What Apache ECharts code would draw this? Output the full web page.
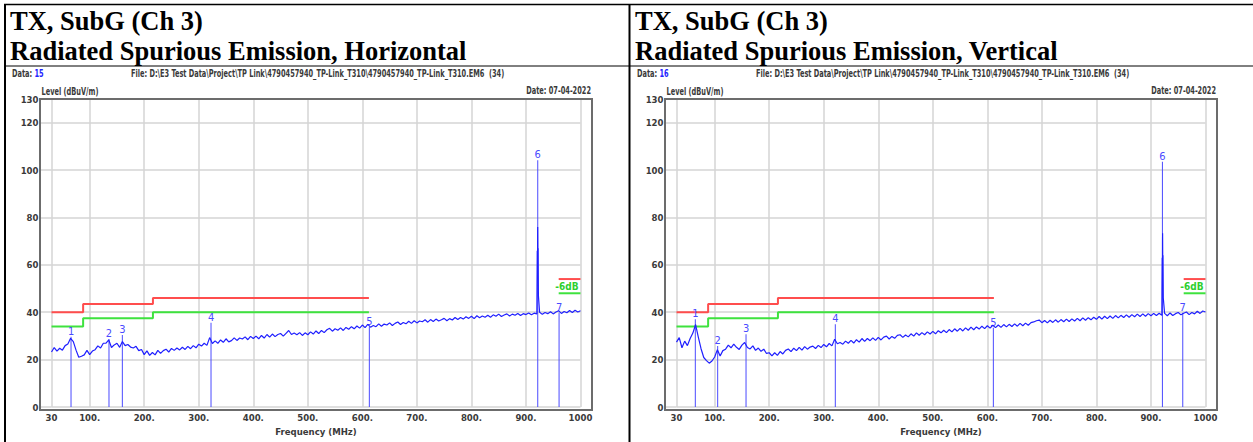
<!DOCTYPE html>
<html>
<head>
<meta charset="utf-8">
<script src="https://cdn.jsdelivr.net/npm/echarts@6/dist/echarts.min.js"></script>
<style>
  html, body { margin: 0; padding: 0; background: #ffffff; }
  #chart { width: 1253px; height: 442px; }
</style>
</head>
<body>
<div id="chart"></div>
<script>
// ---- axis ticks ----
const FREQ_TICKS = [30, 100, 200, 300, 400, 500, 600, 700, 800, 900, 1000];
const LEVEL_TICKS = [0, 20, 40, 60, 80, 100, 120, 130];

// ---- sweep: levels in dBuV/m, one reading every 5 MHz from 30 MHz ----
const SWEEP_START = 30;
const SWEEP_STEP = 5;

// Horizontal polarisation
const sweepH = [
  23.2, 25.1, 23.6, 24.8, 24.0, 25.9, 26.6, 29.0, 27.6, 24.0,   // 30-75
  21.0, 21.4, 22.0, 23.9, 22.1, 23.6, 24.2, 25.8, 24.9, 26.9,   // 80-125
  27.0, 28.3, 25.1, 26.2, 26.9, 25.2, 27.6, 25.9, 26.4, 25.3,   // 130-175
  24.9, 25.6, 23.8, 24.3, 22.1, 23.7, 21.8, 23.0, 22.0, 23.9,   // 180-225
  22.6, 23.8, 24.4, 23.2, 24.7, 23.9, 24.9, 24.1, 25.2, 24.3,   // 230-275
  25.6, 24.6, 25.9, 25.0, 26.5, 25.7, 26.9, 26.0, 29.3, 26.8,   // 280-325
  27.9, 26.9, 28.3, 27.3, 28.8, 27.5, 28.0, 29.2, 28.1, 29.1,   // 330-375
  28.7, 29.6, 28.4, 29.8, 28.9, 29.9, 28.8, 30.2, 29.1, 30.6,   // 380-425
  29.5, 30.8, 29.7, 30.6, 31.0, 29.9, 31.1, 32.3, 30.6, 31.2,   // 430-475
  30.5, 31.4, 30.2, 31.3, 30.5, 31.7, 30.8, 32.1, 31.0, 32.3,   // 480-525
  31.4, 32.6, 33.2, 32.0, 33.0, 32.4, 33.4, 32.3, 33.6, 32.8,   // 530-575
  33.9, 33.0, 34.2, 33.3, 34.6, 33.5, 34.9, 33.7, 34.4, 33.9,   // 580-625
  35.1, 34.1, 35.0, 34.6, 35.5, 34.4, 35.3, 35.9, 34.8, 35.7,   // 630-675
  35.1, 36.2, 35.3, 36.4, 35.5, 36.3, 36.0, 36.8, 35.8, 36.9,   // 680-725
  36.1, 37.1, 36.3, 36.8, 37.4, 36.4, 37.3, 36.7, 37.8, 36.9,   // 730-775
  37.8, 37.1, 38.1, 37.4, 38.3, 37.3, 38.5, 37.7, 38.4, 37.9,   // 780-825
  38.7, 37.9, 38.9, 38.3, 39.2, 38.2, 38.8, 39.3, 38.4, 39.2,   // 830-875
  38.7, 39.5, 38.6, 39.4, 39.0, 39.7, 38.9, 39.6, 39.3, 40.0,   // 880-925
  39.1, 39.9, 39.4, 40.2, 39.3, 40.1, 40.6, 39.5, 40.3, 39.8,   // 930-975
  40.7, 39.9, 40.8, 40.1, 40.6                                  // 980-1000
];
// Fine readings around the 921 MHz carrier [MHz, dBuV/m]
const carrierH = [[920.3, 51], [920.7, 66], [921.1, 55], [921.5, 76], [921.9, 61], [922.3, 67], [922.8, 47]];
// Marker frequencies and levels, numbered 1..7
const markersH = [[65.8, 29.7], [135.4, 28.7], [159.9, 30.4], [322.5, 35.6], [612.8, 33.8], [921.6, 104.1], [960.7, 39.8]];

// Vertical polarisation
const sweepV = [
  27.4, 29.3, 25.0, 27.8, 25.9, 28.9, 31.2, 34.8, 29.5, 24.6,   // 30-75
  20.9, 19.6, 18.5, 19.4, 21.1, 24.2, 21.5, 23.8, 24.4, 26.1,   // 80-125
  25.0, 26.5, 25.2, 24.3, 26.1, 27.2, 25.1, 24.5, 25.8, 23.9,   // 130-175
  24.9, 23.5, 24.4, 22.6, 22.9, 21.6, 22.9, 21.8, 23.4, 22.4,   // 180-225
  23.9, 24.5, 23.4, 24.8, 23.8, 25.2, 24.0, 25.5, 24.4, 25.3,   // 230-275
  25.7, 24.7, 26.0, 25.1, 26.4, 25.4, 26.8, 25.8, 28.6, 26.7,   // 280-325
  27.2, 26.5, 27.8, 26.9, 28.1, 27.0, 28.4, 27.4, 28.9, 27.7,   // 330-375
  28.9, 28.0, 29.2, 28.1, 29.4, 28.3, 29.5, 29.9, 28.7, 29.8,   // 380-425
  29.0, 30.2, 30.5, 29.4, 30.4, 29.6, 30.9, 29.9, 31.3, 30.3,   // 430-475
  31.4, 30.5, 31.7, 30.8, 31.9, 30.9, 32.2, 31.3, 32.4, 31.4,   // 480-525
  32.7, 31.7, 33.0, 32.0, 33.2, 32.1, 33.4, 32.4, 33.7, 32.6,   // 530-575
  33.8, 32.9, 34.1, 33.1, 34.3, 33.3, 34.5, 33.5, 34.6, 33.6,   // 580-625
  34.8, 33.8, 34.9, 34.0, 35.1, 34.1, 35.3, 34.3, 35.4, 34.5,   // 630-675
  35.6, 35.9, 36.4, 36.7, 35.6, 36.5, 35.5, 36.6, 35.7, 36.8,   // 680-725
  35.8, 36.9, 36.0, 37.1, 36.1, 37.2, 36.3, 37.4, 36.4, 37.6,   // 730-775
  36.6, 37.7, 36.8, 37.9, 37.0, 38.2, 37.1, 38.3, 37.3, 38.4,   // 780-825
  37.4, 38.6, 37.6, 38.7, 37.8, 38.9, 37.9, 39.0, 38.1, 39.2,   // 830-875
  38.2, 39.3, 38.3, 39.4, 38.5, 39.5, 38.6, 39.6, 38.7, 39.5,   // 880-925
  38.5, 39.7, 38.6, 39.4, 39.9, 38.9, 39.6, 40.1, 39.0, 39.9,   // 930-975
  39.3, 40.4, 39.5, 40.5, 40.1                                  // 980-1000
];
const carrierV = [[920.2, 50], [920.6, 63], [921.0, 52], [921.3, 73.3], [921.7, 58], [922.1, 64], [922.6, 46]];
const markersV = [[64.5, 37.0], [105.5, 25.7], [157.5, 30.7], [321.2, 34.9], [611.0, 33.5], [921.0, 103.5], [958.3, 39.8]];

// ---- limit lines (FCC 15.209 QP) and the -6 dB margin ----
const limitQP = [[30, 40], [88, 40], [88, 43.5], [216, 43.5], [216, 46], [612, 46]];
const limitQPHigh = [[960, 54], [1000, 54]];
const limitMargin = [[30, 34], [88, 34], [88, 37.5], [216, 37.5], [216, 40], [612, 40]];
const limitMarginHigh = [[960, 48], [1000, 48]];

// ---- captions ----
const panelTitles = [
  ['TX, SubG (Ch 3)', 'Radiated Spurious Emission, Horizontal'],
  ['TX, SubG (Ch 3)', 'Radiated Spurious Emission, Vertical']
];
const dataNumbers = ['15', '16'];
const fileText = 'File: D:\\E3 Test Data\\Project\\TP Link\\4790457940_TP-Link_T310\\4790457940_TP-Link_T310.EM6  (34)';
const dateText = 'Date: 07-04-2022';

// ---- build ----
function sweepToPoints(sweep, carrier) {
  const pts = sweep.map((v, i) => [SWEEP_START + i * SWEEP_STEP, v]);
  return pts.concat(carrier).sort((a, b) => a[0] - b[0]);
}

const NARROW = '"DejaVu Sans Condensed", "Liberation Sans", sans-serif';
const SMALL_FONT = 'bold 10.5px ' + NARROW;
const SQUEEZE = 0.7;            // condensed look of the instrument captions
const TEXT_GREY = '#3a3a3a';
const GRID_COLOR = '#d4d4d4';
const TRACE_COLOR = '#1f1fff';
const MARKER_COLOR = '#4a4aff';
const QP_COLOR = '#ff4d4d';
const MARGIN_COLOR = '#3ee23e';

const panels = [
  { left: 51.5, offset: 0, trace: sweepToPoints(sweepH, carrierH), markers: markersH },
  { left: 676.5, offset: 625, trace: sweepToPoints(sweepV, carrierV), markers: markersV }
];

const grid = [], xAxis = [], yAxis = [], series = [], graphic = [];

function caption(x, y, text, align) {
  return {
    type: 'text', x: x, y: y, scaleX: SQUEEZE,
    style: {
      text: text, font: SMALL_FONT, fill: TEXT_GREY,
      textAlign: align, align: align, textVerticalAlign: 'middle', verticalAlign: 'middle'
    }
  };
}

panels.forEach((p, i) => {
  grid.push({ left: p.left, top: 99, width: 529, height: 308 });
  xAxis.push({
    gridIndex: i, type: 'value', min: 30, max: 1000,
    axisLine: { show: false },
    axisTick: { show: false, customValues: FREQ_TICKS },
    axisLabel: {
      customValues: FREQ_TICKS, margin: 5,
      fontFamily: NARROW, fontSize: 9.5, fontWeight: 'bold', color: TEXT_GREY,
      formatter: v => (v === 30 || v === 1000) ? String(v) : v + '.'
    },
    splitLine: { show: true, lineStyle: { color: GRID_COLOR, width: 1.5 } },
    name: 'Frequency (MHz)', nameLocation: 'middle', nameGap: 19,
    nameTextStyle: { fontFamily: NARROW, fontSize: 9.5, fontWeight: 'bold', color: TEXT_GREY }
  });
  yAxis.push({
    gridIndex: i, type: 'value', min: 0, max: 130,
    axisLine: { show: false },
    axisTick: { show: true, length: 11, customValues: LEVEL_TICKS, lineStyle: { color: GRID_COLOR, width: 1.5 } },
    axisLabel: {
      customValues: LEVEL_TICKS, margin: 13,
      fontFamily: NARROW, fontSize: 9.5, fontWeight: 'bold', color: TEXT_GREY
    },
    splitLine: { show: true, lineStyle: { color: GRID_COLOR, width: 1.5 } }
  });

  const common = { xAxisIndex: i, yAxisIndex: i, animation: false, silent: true };
  series.push(Object.assign({
    type: 'line', data: limitQP, symbol: 'none', z: 2,
    lineStyle: { color: QP_COLOR, width: 2 }
  }, common));
  series.push(Object.assign({
    type: 'line', data: limitQPHigh, symbol: 'none', z: 2,
    lineStyle: { color: QP_COLOR, width: 2 }
  }, common));
  series.push(Object.assign({
    type: 'line', data: limitMargin, symbol: 'none', z: 2,
    lineStyle: { color: MARGIN_COLOR, width: 2 }
  }, common));
  series.push(Object.assign({
    type: 'line', z: 2, symbol: 'circle', symbolSize: 0, showSymbol: true,
    itemStyle: { color: MARGIN_COLOR },
    lineStyle: { color: MARGIN_COLOR, width: 2 },
    data: limitMarginHigh.map((d, k) => k === limitMarginHigh.length - 1 ? {
      value: d,
      label: {
        show: true, formatter: '-6dB', position: 'top', align: 'right', distance: 2,
        offset: [-2, 0], fontFamily: NARROW, fontSize: 10, fontWeight: 'bold',
        color: '#2ecf2e', backgroundColor: '#ffffff'
      }
    } : d)
  }, common));
  series.push(Object.assign({
    type: 'bar', data: p.markers, barWidth: 1, z: 3,
    itemStyle: { color: MARKER_COLOR },
    label: {
      show: true, position: 'top', distance: 0,
      formatter: q => String(q.dataIndex + 1),
      fontFamily: NARROW, fontSize: 11, color: MARKER_COLOR
    }
  }, common));
  series.push(Object.assign({
    type: 'line', data: p.trace, symbol: 'none', z: 4,
    lineStyle: { color: TRACE_COLOR, width: 1.2 }
  }, common));

  // plot frame
  graphic.push({
    type: 'rect', z: 10,
    shape: { x: 40 + p.offset, y: 99, width: 552, height: 311 },
    style: { fill: 'none', stroke: '#6c6c6c', lineWidth: 2 }
  });
  // header texts
  const tx = 10 + p.offset;
  [21, 51].forEach((y, k) => graphic.push({
    type: 'text', x: tx, y: y,
    style: {
      text: panelTitles[i][k], font: 'bold 26.5px "Liberation Serif", "Times New Roman", serif',
      fill: '#000000', textAlign: 'left', align: 'left', textVerticalAlign: 'middle', verticalAlign: 'middle'
    }
  }));
  const dataCaption = caption(12 + p.offset, 74, '{a|Data:} {b|' + dataNumbers[i] + '}', 'left');
  dataCaption.style.rich = {
    a: { fill: TEXT_GREY, color: TEXT_GREY, font: SMALL_FONT },
    b: { fill: '#2424ff', color: '#2424ff', font: SMALL_FONT }
  };
  graphic.push(dataCaption);
  graphic.push(caption(131 + p.offset, 74, fileText, 'left'));
  graphic.push(caption(591 + p.offset, 90.5, dateText, 'right'));
  graphic.push(caption(41.5 + p.offset, 92, 'Level (dBuV/m)', 'left'));
});

// table rules
const rule = (x1, y1, x2, y2, w) => ({
  type: 'line', z: 20, shape: { x1, y1, x2, y2 }, style: { stroke: '#000000', lineWidth: w }
});
graphic.push(rule(4, 4.5, 1253, 4.5, 1.5));
graphic.push(rule(5, 4, 5, 442, 2));
graphic.push(rule(629.5, 4, 629.5, 442, 2));
graphic.push(rule(4, 66, 1253, 66, 1));

const chart = echarts.init(document.getElementById('chart'), null, { renderer: 'svg' });
chart.setOption({
  animation: false,
  backgroundColor: '#ffffff',
  textStyle: { fontFamily: NARROW },
  grid, xAxis, yAxis, series, graphic
});
</script>
</body>
</html>
